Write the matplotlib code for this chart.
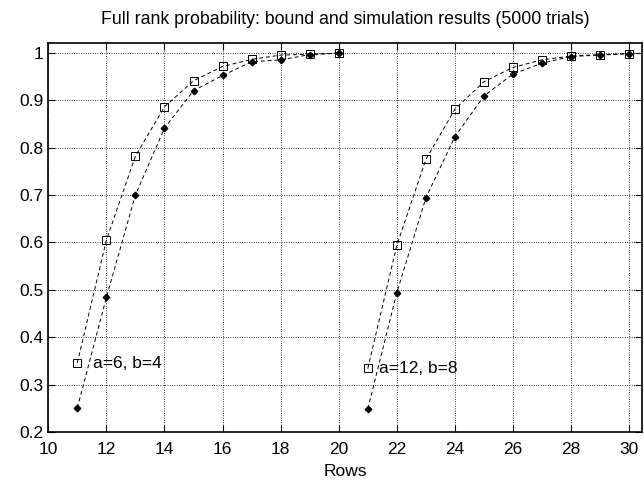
import matplotlib
matplotlib.use("Agg")
import matplotlib.pyplot as plt

plt.rcParams['font.family'] = ['Liberation Sans', 'DejaVu Sans']

rows_a = [11, 12, 13, 14, 15, 16, 17, 18, 19, 20]
bound_a = [0.346, 0.605, 0.782, 0.886, 0.941, 0.971, 0.986, 0.995, 0.997, 0.999]
sim_a = [0.251, 0.484, 0.700, 0.841, 0.920, 0.952, 0.981, 0.985, 0.996, 0.999]

rows_b = [21, 22, 23, 24, 25, 26, 27, 28, 29, 30]
bound_b = [0.334, 0.594, 0.775, 0.881, 0.939, 0.969, 0.985, 0.993, 0.996, 0.998]
sim_b = [0.249, 0.494, 0.694, 0.823, 0.909, 0.955, 0.978, 0.992, 0.995, 0.998]

xticks = [10, 12, 14, 16, 18, 20, 22, 24, 26, 28, 30]
yticks = [0.2, 0.3, 0.4, 0.5, 0.6, 0.7, 0.8, 0.9, 1.0]
ytick_labels = ['0.2', '0.3', '0.4', '0.5', '0.6', '0.7', '0.8', '0.9', '1']

W, H = 644, 484
L, R, T, B = 48.3, 641.7, 43, 432
fig = plt.figure(figsize=(W / 100, H / 100), dpi=100)
ax = fig.add_axes([L / W, (H - B) / H, (R - L) / W, (B - T) / H])

for rows, b, s in [(rows_a, bound_a, sim_a), (rows_b, bound_b, sim_b)]:
    ax.plot(rows, b, linestyle=(0, (4, 3)), color='black', linewidth=0.7,
            marker='s', markersize=5.2, markerfacecolor='none',
            markeredgecolor='black', markeredgewidth=0.7)
    ax.plot(rows, s, linestyle=(0, (4, 3)), color='black', linewidth=0.7,
            marker='D', markersize=3.3, markerfacecolor='black',
            markeredgecolor='black')

ax.text(11.55, 0.345, 'a=6, b=4', fontsize=12.5, va='center', ha='left')
ax.text(21.4, 0.334, 'a=12, b=8', fontsize=12.5, va='center', ha='left')

ax.set_xlim(10, 30.43)
ax.set_ylim(0.2, 1.0205)
ax.set_xticks(xticks)
ax.set_yticks(yticks)
ax.set_yticklabels(ytick_labels)
ax.tick_params(direction='in', top=True, right=True, labelsize=12.5, length=5, width=0.8)
ax.tick_params(axis='x', pad=7)
ax.grid(True, linestyle=(0, (1, 1.8)), color='black', linewidth=0.6)
for sp in ax.spines.values():
    sp.set_linewidth(1.2)

ax.set_xlabel('Rows', fontsize=12.5, labelpad=5)
ax.set_title('Full rank probability: bound and simulation results (5000 trials)',
             fontsize=12.8, pad=14)

fig.savefig('out.png', dpi=100)
